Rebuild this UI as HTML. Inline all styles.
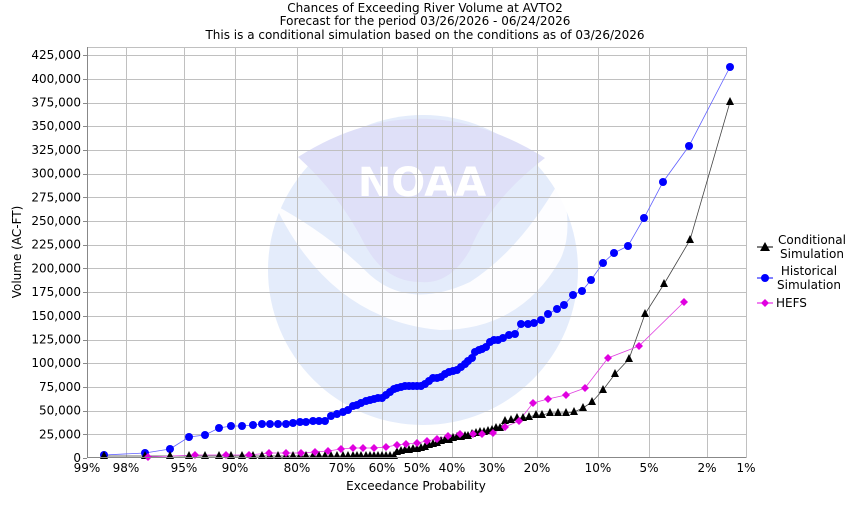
<!DOCTYPE html>
<html><head><meta charset="utf-8"><style>
body{margin:0;background:#fff;}
svg text{font-family:"DejaVu Sans","Liberation Sans",sans-serif;font-size:12px;fill:#000;}
</style></head><body>
<svg id="s" width="850" height="500" xmlns="http://www.w3.org/2000/svg">
<rect width="850" height="500" fill="#fff"/>
<text x="425" y="12" text-anchor="middle">Chances of Exceeding River Volume at AVTO2</text>
<text x="425" y="25" text-anchor="middle">Forecast for the period 03/26/2026 - 06/24/2026</text>
<text x="425" y="39" text-anchor="middle">This is a conditional simulation based on the conditions as of 03/26/2026</text>
<g id="wm">
<circle cx="423" cy="270" r="155" fill="#e4ecfb"/>
<path d="M298,157 Q420,80 545,158 Q490,200 470,250 Q450,285 420,282 Q385,282 365,245 Q340,195 298,157Z" fill="#dfe0f8"/>
<path d="M275,205 Q330,235 370,275 Q410,310 470,282 Q520,250 560,180 Q575,230 560,260 Q520,330 440,330 Q330,320 275,205Z" fill="#fff" opacity="0.9"/>
<text x="422" y="196" text-anchor="middle" style="font-size:40px;font-weight:bold;fill:#fff;">NOAA</text>
</g>
<g id="grid" stroke="#c0c0c0" stroke-width="1"></g>
<g id="ser"></g>
<line x1="87.5" y1="47" x2="87.5" y2="458" stroke="#888"/>
<line x1="87" y1="457.5" x2="746" y2="457.5" stroke="#888"/>
<g id="lab"></g>
<text x="416" y="490" text-anchor="middle">Exceedance Probability</text>
<text transform="translate(21,252) rotate(-90)" text-anchor="middle">Volume (AC-FT)</text>
<g>
<line x1="757" y1="247" x2="773" y2="247" stroke="#000"/><polygon points="765,242 770,251 760,251" fill="#000"/>
<text x="812" y="244" text-anchor="middle">Conditional</text><text x="812" y="258" text-anchor="middle">Simulation</text>
<line x1="757" y1="278" x2="773" y2="278" stroke="#00f"/><circle cx="765" cy="278" r="4" fill="#00f"/>
<text x="809" y="275" text-anchor="middle">Historical</text><text x="809" y="289" text-anchor="middle">Simulation</text>
<line x1="757" y1="303" x2="773" y2="303" stroke="#e000e0"/><polygon points="765,299 769,303 765,307 761,303" fill="#e000e0"/>
<text x="776" y="307">HEFS</text>
</g>
</svg>
<script>
var NS="http://www.w3.org/2000/svg";
function el(p,t,a,txt){var e=document.createElementNS(NS,t);for(var k in a)e.setAttribute(k,a[k]);if(txt)e.textContent=txt;document.getElementById(p).appendChild(e);return e;}
var xs=[[87,"99%"],[126,"98%"],[184,"95%"],[235,"90%"],[297,"80%"],[342,"70%"],[382,"60%"],[417,"50%"],[452,"40%"],[492,"30%"],[537,"20%"],[598,"10%"],[649,"5%"],[707,"2%"],[746,"1%"]];
xs.forEach(function(v){el("grid","line",{x1:v[0]+.5,y1:47,x2:v[0]+.5,y2:458});el("lab","text",{x:v[0],y:472,"text-anchor":"middle"},v[1]);});
el("grid","line",{x1:87,y1:47.5,x2:746,y2:47.5});
for(var k=0;k<=17;k++){var y=458-k*23.7;var yy=Math.round(y)+.5;
 if(k>0)el("grid","line",{x1:87,y1:yy,x2:746,y2:yy});
 el("lab","line",{x1:83,y1:yy,x2:87,y2:yy,stroke:"#888"});
 el("lab","text",{x:81,y:y+4,"text-anchor":"end"},(k*25000).toLocaleString("en-US"));}
var blue=[[104,455],[145,453],[170,449],[189,437],[205,435],[219,428],[231,426],[242,426],[253,425],[262,424],[270,424],[278,424],[286,424],[293,423],[300,422],[306,422],[313,421],[319,421],[325,421],[331,416],[337,414],[343,412],[348,410],[353,406],[357,405],[361,403],[366,401],[370,400],[374,399],[378,398],[382,398],[386,395],[390,392],[394,389],[397,388],[401,387],[405,386],[409,386],[413,386],[417,386],[421,386],[425,384],[429,381],[433,378],[437,378],[441,377],[445,374],[449,372],[453,371],[457,370],[461,367],[465,364],[468,361],[472,358],[475,352],[479,350],[482,349],[486,347],[490,342],[494,340],[498,340],[503,338],[509,335],[515,334],[521,324],[528,324],[534,323],[541,320],[548,314],[557,309],[564,305],[573,295],[582,291],[591,280],[603,263],[614,253],[628,246],[644,218],[663,182],[689,146],[730,67]];
var black=[];
var bx=[104,145,170,189,205,219,231,242,253,262,270,278,286,293,300,306,313,319,325,331,337,343,348,353,357,361,366,370,374,378,382,386,390,394];
bx.forEach(function(x){black.push([x,456]);});
[[397,452],[401,451],[405,450],[409,450],[413,449],[417,449],[421,448],[425,447],[429,445],[433,444],[437,443],[441,441],[445,440],[449,440],[453,438],[457,437],[461,437],[465,436],[468,436],[472,434],[476,433],[480,432],[484,432],[488,431],[492,430],[496,428],[500,428],[505,421],[511,420],[517,418],[523,418],[529,417],[536,415],[542,415],[550,413],[558,413],[566,413],[574,412],[583,408],[592,402],[603,390],[615,374],[629,359],[645,314],[664,284],[690,240],[730,102]].forEach(function(p){black.push(p);});
var mag=[[148,457],[195,455],[226,455],[249,455],[269,453],[286,453],[301,453],[315,452],[328,451],[341,449],[353,448],[363,448],[374,448],[386,447],[397,445],[406,444],[417,443],[427,441],[437,439],[448,436],[460,434],[473,434],[482,434],[493,433],[505,427],[519,421],[533,403],[548,399],[566,395],[585,388],[608,358],[639,346],[684,302]];
function pl(a,c){el("ser","polyline",{points:a.map(function(p){return p.join(",")}).join(" "),fill:"none",stroke:c,"stroke-width":0.8});}
pl(blue,"#6060ff");pl(black,"#444");pl(mag,"#e040e0");
blue.forEach(function(p){el("ser","circle",{cx:p[0],cy:p[1],r:4,fill:"#00f"});});
black.forEach(function(p){el("ser","polygon",{points:[p[0],p[1]-5,p[0]+4,p[1]+3,p[0]-4,p[1]+3].join(","),fill:"#000"});});
mag.forEach(function(p){el("ser","polygon",{points:[p[0],p[1]-4,p[0]+4,p[1],p[0],p[1]+4,p[0]-4,p[1]].join(","),fill:"#e000e0"});});
</script>
</body></html>
